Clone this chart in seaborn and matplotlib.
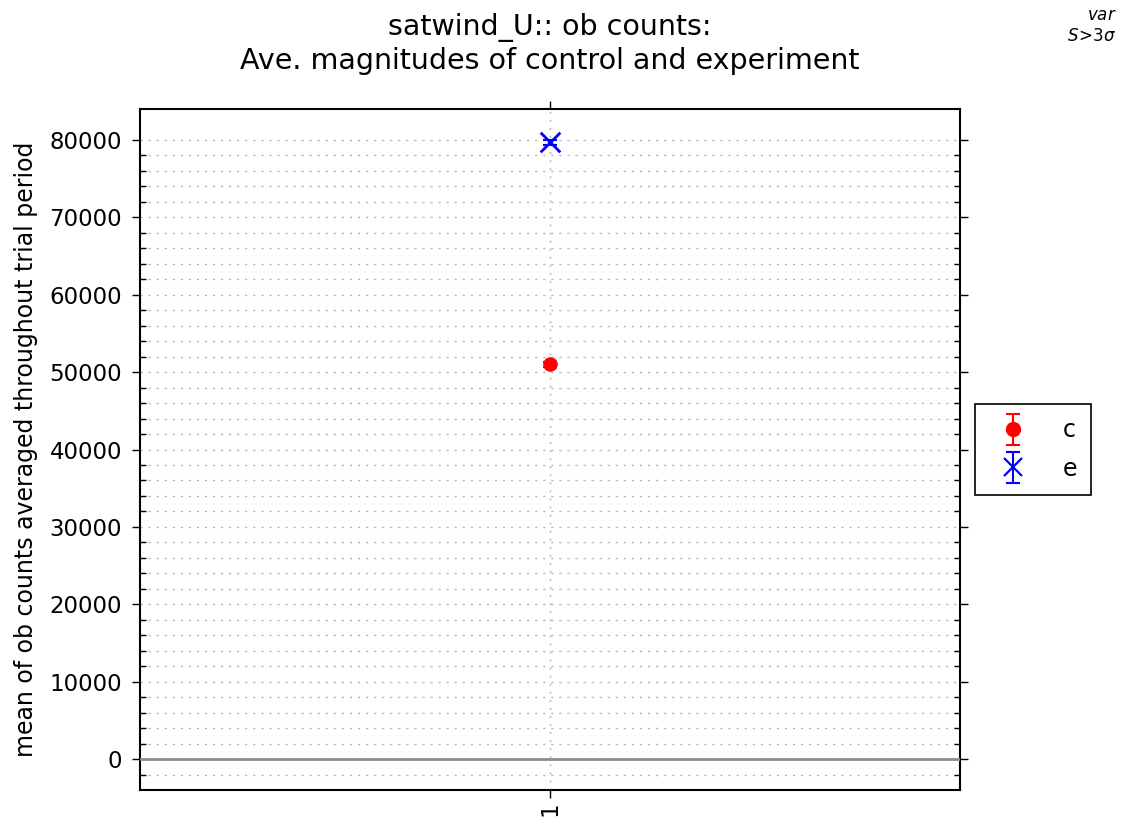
import numpy as np
import pandas as pd
import seaborn as sns
import matplotlib
matplotlib.use("Agg")
import matplotlib.pyplot as plt
from matplotlib.ticker import MultipleLocator, FixedLocator
from matplotlib.legend_handler import HandlerTuple, HandlerErrorbar
from matplotlib.container import ErrorbarContainer

# ---- data ----
categories = ["1"]
series_names = ["c", "e"]
c_values = [51000]
e_values = [79700]
c_err = [300]
e_err = [300]
title_lines = ["satwind_U:: ob counts:", "Ave. magnitudes of control and experiment"]
ylabel = "mean of ob counts averaged throughout trial period"

sns.set_theme(style="white")
plt.rcParams['font.family'] = ['DejaVu Sans']
for k in ["text.color", "axes.labelcolor", "xtick.color", "ytick.color"]:
    plt.rcParams[k] = "black"

fig = plt.figure(figsize=(11.22, 8.19), dpi=100)
ax = fig.add_axes([0.1248, 0.0354, 0.8556 - 0.1248, 0.8669 - 0.0354])

xpos = np.arange(1, len(categories) + 1)
df = pd.DataFrame({
    "x": np.concatenate([xpos, xpos]),
    "y": c_values + e_values,
    "series": [series_names[0]] * len(categories) + [series_names[1]] * len(categories),
})

styles = {
    "c": dict(color="red", marker="o", s=110, err=c_err),
    "e": dict(color="blue", marker="x", s=200, err=e_err),
}
handles = []
for name in series_names:
    sub = df[df["series"] == name]
    st = styles[name]
    eb = ax.errorbar(sub["x"], sub["y"], yerr=st["err"], fmt="none",
                     ecolor=st["color"], capsize=5, elinewidth=1.5, capthick=1.5, zorder=4)
    sns.scatterplot(data=sub, x="x", y="y", color=st["color"], marker=st["marker"],
                    s=st["s"], linewidth=2.0 if st["marker"] == "x" else 0,
                    ax=ax, legend=False, zorder=5)
    mk = plt.Line2D([], [], linestyle="none", marker=st["marker"], color=st["color"],
                    markersize=10 if st["marker"] == "o" else 13,
                    markeredgewidth=1 if st["marker"] == "o" else 1.6)
    handles.append((eb, mk))

ax.axhline(0, color="#8c8c8c", linewidth=2, zorder=3)

ax.set_xlim(0, 2)
ax.set_ylim(-4000, 84000)
ax.set_xticks(xpos)
ax.set_xticklabels(categories, rotation=90, fontsize=16.5)
ax.yaxis.set_major_locator(MultipleLocator(10000))
minor = [v for v in np.arange(-2000, 80001, 2000) if v % 10000 != 0]
ax.yaxis.set_minor_locator(FixedLocator(minor))
ax.tick_params(axis="y", which="major", direction="out", length=6, width=1,
               labelsize=16.5, left=True, right=True, color="black", pad=7)
ax.tick_params(axis="y", which="minor", direction="in", length=4, width=1,
               left=True, right=True, color="black")
ax.tick_params(axis="x", which="major", direction="out", length=6, width=1,
               bottom=True, top=True, color="black", pad=2)
grid_ls = (0, (1.5, 4.3))
ax.grid(True, which="major", axis="both", linestyle=grid_ls, color="#b4b4b4", linewidth=1)
ax.grid(True, which="minor", axis="y", linestyle=grid_ls, color="#b4b4b4", linewidth=1)
for sp in ax.spines.values():
    sp.set_color("black")
    sp.set_linewidth(1.5)

ax.set_xlabel("")
ax.set_ylabel(ylabel, fontsize=17, labelpad=8)
ax.set_title("\n".join(title_lines), fontsize=20.5, pad=29)

leg = ax.legend(handles, series_names,
                handler_map={tuple: HandlerTuple(ndivide=1),
                             ErrorbarContainer: HandlerErrorbar(xerr_size=0.35, yerr_size=0.65)},
                loc="center left", bbox_to_anchor=(1.004, 0.5), fontsize=17,
                frameon=True, fancybox=False, framealpha=1, edgecolor="black",
                handlelength=2.0, handletextpad=1.1, borderpad=0.6, labelspacing=0.6)
leg.get_frame().set_linewidth(1.2)

fig.text(0.995, 0.993, "$var$\n$S\\!>\\!3\\sigma$", ha="right", va="top", fontsize=12)

fig.savefig("out.png", dpi=100)
